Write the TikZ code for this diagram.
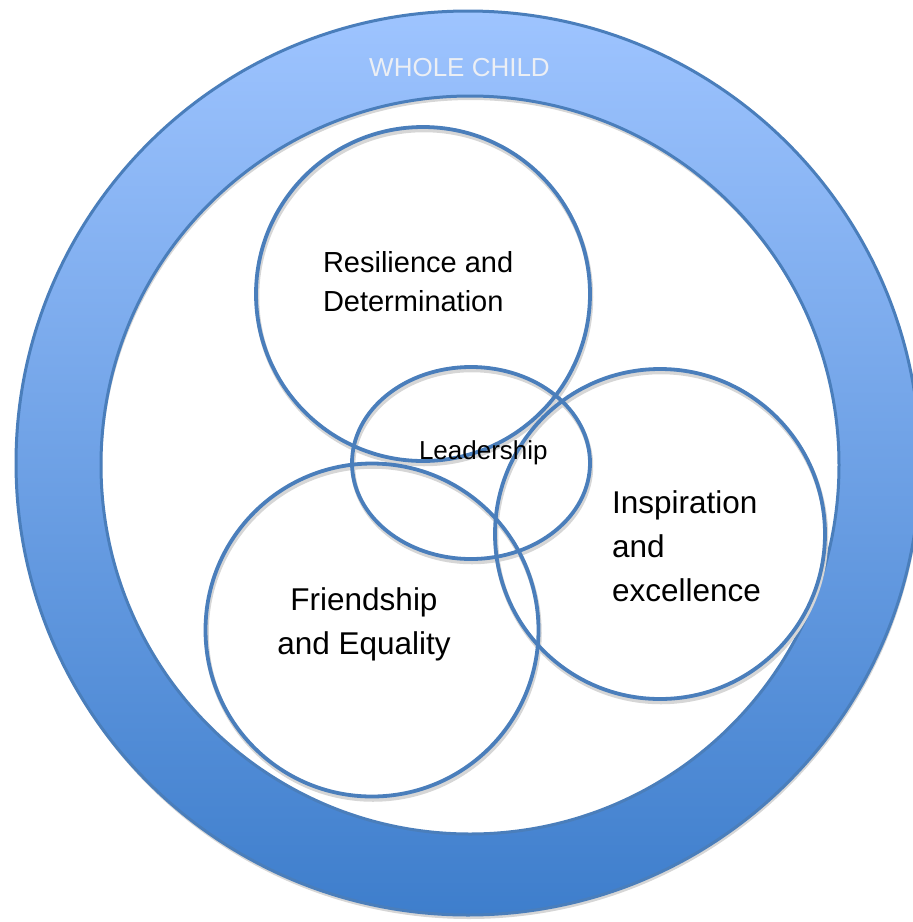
\documentclass[tikz,border=0pt]{standalone}
\usepackage{fontspec}
\setmainfont{Liberation Sans}
\usetikzlibrary{shapes.geometric}

\definecolor{edge}{RGB}{74,126,187}
\definecolor{ringtop}{RGB}{158,196,255}
\definecolor{ringbot}{RGB}{62,126,204}
\definecolor{shadowgray}{RGB}{214,214,214}
\definecolor{labelgray}{RGB}{236,239,244}

% a block of lines with a fixed size and line distance
\newcommand{\textblock}[4]{{\fontsize{#1}{#2}\selectfont\begin{tabular}[t]{@{}#3@{}}#4\end{tabular}}}

\begin{document}
\begin{tikzpicture}[x=1pt,y=-1pt,
  ringline/.style={draw=edge, line width=3pt},
  bubble/.style={circle, draw=edge, line width=3.8pt, inner sep=0pt, fill=none},
  bubbleshadow/.style={circle, draw=shadowgray, line width=4.5pt, inner sep=0pt},
  lbl/.style={inner sep=0pt, outer sep=0pt, text=black}]

\useasboundingbox (0,0) rectangle (913,922);
\clip (0,0) rectangle (913,922);

% centres of the ring
\coordinate (ringout) at (468,463);
\coordinate (ringin)  at (470,465);

% shadow of the ring
\fill[shadowgray, even odd rule]
  ([shift={(1,4)}]ringout) circle[radius=452pt]
  ([shift={(1,4)}]ringin) circle[radius=369pt];

% the shaded ring
\shade[top color=ringtop, bottom color=ringbot, even odd rule]
  (ringout) circle[radius=452pt]
  (ringin) circle[radius=369pt];
\draw[ringline] (ringout) circle[radius=452pt];
\draw[ringline] (ringin) circle[radius=369pt];

\node[lbl, text=labelgray, anchor=base] (whole) at (459.5,76)
  {\fontsize{26}{30}\selectfont WHOLE CHILD};

% shadows of the bubbles
\node[bubbleshadow, minimum size=334pt] (resS)  at (424,297) {};
\node[bubbleshadow, minimum size=330pt] (insS)  at (661,537) {};
\node[bubbleshadow, minimum size=333pt] (friS)  at (373,633) {};
\node[bubbleshadow, ellipse, minimum width=238pt, minimum height=192pt] (leadS) at (472,466) {};

% the bubbles
\node[bubble, minimum size=334pt] (resilience)  at (423,294) {};
\node[bubble, minimum size=330pt] (inspiration) at (660,534) {};
\node[bubble, minimum size=333pt] (friendship)  at (372,630) {};
\node[bubble, ellipse, minimum width=238pt, minimum height=192pt] (leadership) at (471,463) {};

% labels
\node[lbl, anchor=base west] (resText) at (323,272)
  {\textblock{29}{39}{l}{Resilience and\\Determination}};
\node[lbl, anchor=base west] (leadText) at (419,459)
  {\fontsize{26}{30}\selectfont Leadership};
\node[lbl, anchor=base west] (insText) at (612,513)
  {\textblock{31.5}{44}{l}{Inspiration\\and\\excellence}};
\node[lbl, anchor=base] (friText) at (364,610)
  {\textblock{31.5}{44}{c}{Friendship\\and Equality}};
\end{tikzpicture}
\end{document}
